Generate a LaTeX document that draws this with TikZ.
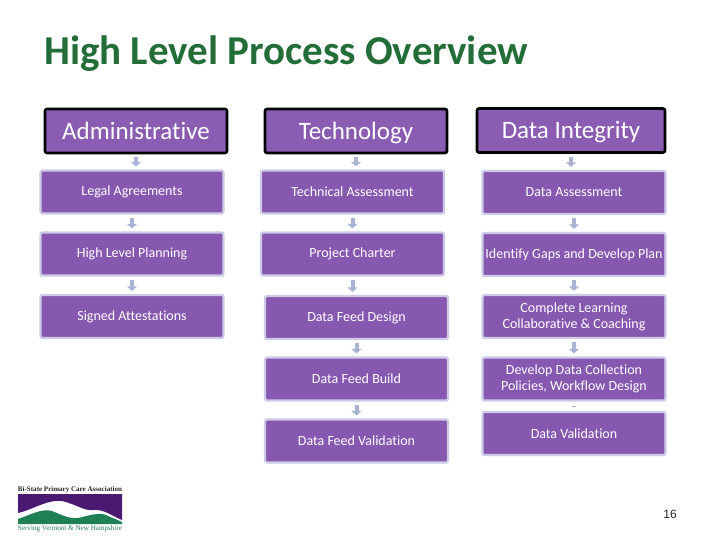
\documentclass[tikz,border=0pt]{standalone}
\usepackage{fontspec}
\setmainfont{Carlito}[Ligatures=NoCommon]
\newfontfamily\arialf{Liberation Sans}
\newfontfamily\logof{Liberation Serif}
\usetikzlibrary{arrows.meta}
\definecolor{boxpurple}{HTML}{8758AF}
\definecolor{hdrpurple}{HTML}{8A5DB3}
\definecolor{halo}{HTML}{CDCBE8}
\definecolor{arrowgrey}{HTML}{A9B3D3}
\definecolor{titlegreen}{HTML}{236E38}
\definecolor{logopurple}{HTML}{4A1A72}
\definecolor{logogreen}{HTML}{1F7F55}
\tikzset{
  x=1pt,y=-1pt,
  hdr/.style={draw=black,line width=2.6pt,rounded corners=2pt,fill=hdrpurple,text=white,
    minimum width=182pt,minimum height=44pt,inner sep=0pt,text height=17pt,text depth=0pt,
    font=\fontsize{25}{27}\selectfont},
  sub/.style={draw=halo,line width=2.2pt,rounded corners=2pt,fill=boxpurple,text=white,
    minimum width=183pt,minimum height=43pt,inner sep=0pt,align=center,
    font=\fontsize{14}{16}\selectfont},
  conn/.style={arrowgrey,line width=4pt,-{Triangle[width=10pt,length=4.5pt]},shorten >=3pt,shorten <=3pt},
  thinconn/.style={arrowgrey,line width=0.8pt},
}
\begin{document}
\begin{tikzpicture}
\useasboundingbox (0,0) rectangle (720,540);
\fill[white] (0,0) rectangle (720,540);
\node[anchor=west,text=titlegreen,font=\fontsize{41}{44}\selectfont\bfseries,inner sep=0pt] (title) at (44,53.5) {High Level Process Overview};
% headers
\node[hdr] (h1) at (136,131) {Administrative};
\node[hdr] (h2) at (356,131) {Technology};
\node[hdr,minimum width=188pt] (h3) at (571,130.5) {Data Integrity};
% column 1
\node[sub] (a1) at (132,192) {Legal Agreements};
\node[sub] (a2) at (132,254) {High Level Planning};
\node[sub] (a3) at (132,316.5) {Signed Attestations};
% column 2
\node[sub] (b1) at (352.5,192) {Technical Assessment};
\node[sub] (b2) at (352.5,254) {Project Charter};
\node[sub] (b3) at (356.5,317.5) {Data Feed Design};
\node[sub] (b4) at (356.5,379) {Data Feed Build};
\node[sub] (b5) at (356.5,441) {Data Feed Validation};
% column 3
\node[sub] (c1) at (574,192.5) {Data Assessment};
\node[sub] (c2) at (574,254.5) {Identify Gaps and Develop Plan};
\node[sub] (c3) at (574,316.5) {Complete Learning\\Collaborative \& Coaching};
\node[sub] (c4) at (574,379) {Develop Data Collection\\Policies, Workflow Design};
\node[sub] (c5) at (574,433.5) {Data Validation};
% connectors
\foreach \p/\q in {h1/a1,a1/a2,a2/a3,h2/b1,b1/b2,b2/b3,b3/b4,b4/b5,h3/c1,c1/c2,c2/c3,c3/c4}
  \draw[conn] (\p.south) -- (\p.south |- \q.north);
\draw[thinconn,shorten >=2pt,shorten <=2pt] ([xshift=-4pt,yshift=-4.5pt]c4.south) -- ([xshift=4pt,yshift=-4.5pt]c4.south);
% logo
\node[inner sep=0pt,font=\logof\bfseries\fontsize{7.4}{8}\selectfont,text=black!85] (l1) at (70,490) {\resizebox{104pt}{!}{Bi-State Primary Care Association}};
\fill[logopurple] (18,494) -- (122,494) -- (122,520)
  .. controls (112,516) and (104,509) .. (93,510)
  .. controls (84,511) and (78,505) .. (62,501)
  .. controls (48,499) and (32,510) .. (18,513) -- cycle;
\fill[logogreen] (18,524) -- (18,519)
  .. controls (30,515) and (42,508) .. (52,511)
  .. controls (60,514) and (68,519) .. (78,518)
  .. controls (88,516) and (98,512) .. (106,515)
  .. controls (112,518) and (118,520) .. (122,522) -- (122,524) -- cycle;
\node[inner sep=0pt,font=\logof\fontsize{7.2}{8}\selectfont,text=logogreen] (l2) at (70,529) {\resizebox{104pt}{!}{Serving Vermont \& New Hampshire}};
% page number
\node[font=\arialf\fontsize{12}{14}\selectfont,text=black!85,inner sep=0pt] (pg) at (670,514) {16};
\end{tikzpicture}
\end{document}
